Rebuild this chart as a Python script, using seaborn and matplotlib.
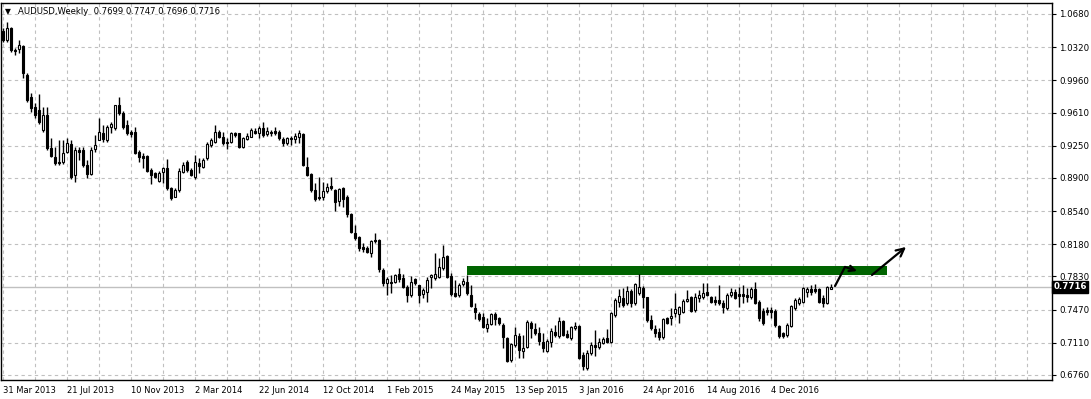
import numpy as np
import pandas as pd
import matplotlib
matplotlib.use("Agg")
import matplotlib.pyplot as plt
from matplotlib.patches import Rectangle
import matplotlib.transforms as mtransforms
import seaborn as sns

# ---------------- data (AUDUSD weekly) ----------------
opens = [1.0495,1.0398,1.0528,1.0289,1.0300,1.0332,1.0018,0.9779,0.9670,0.9638,
         0.9420,0.9583,0.9225,0.9127,0.9073,0.9073,0.9181,0.9268,0.8932,0.9203,
         0.9203,0.9040,0.8943,0.9214,0.9312,0.9388,0.9312,0.9453,0.9442,0.9692,
         0.9605,0.9475,0.9399,0.9399,0.9181,0.9138,0.9138,0.8986,0.8953,0.8867,
         0.8964,0.9008,0.8791,0.8693,0.8769,0.8964,0.9073,0.8986,0.8910,0.9062,
         0.9019,0.9116,0.9257,0.9290,0.9399,0.9344,0.9290,0.9290,0.9388,0.9388,
         0.9236,0.9323,0.9344,0.9409,0.9388,0.9442,0.9377,0.9399,0.9409,0.9399,
         0.9323,0.9279,0.9333,0.9323,0.9344,0.9377,0.9019,0.8943,0.8769,0.8693,
         0.8693,0.8758,0.8812,0.8769,0.8649,0.8791,0.8693,0.8508,0.8302,0.8258,
         0.8150,0.8139,0.8085,0.8226,0.8226,0.7900,0.7759,0.7770,0.7770,0.7857,
         0.7813,0.7715,0.7629,0.7802,0.7737,0.7640,0.7661,0.7824,0.7813,0.7824,
         0.7922,0.8052,0.7835,0.7650,0.7629,0.7748,0.7770,0.7629,0.7487,0.7422,
         0.7390,0.7270,0.7314,0.7422,0.7379,0.7303,0.7162,0.6923,0.7086,0.7183,
         0.7021,0.7064,0.7325,0.7259,0.7216,0.7118,0.7021,0.7118,0.7227,0.7183,
         0.7346,0.7205,0.7162,0.7270,0.7292,0.6977,0.6836,0.6999,0.7086,0.7064,
         0.7107,0.7162,0.7118,0.7411,0.7553,0.7596,0.7542,0.7672,0.7542,0.7650,
         0.7705,0.7607,0.7357,0.7259,0.7227,0.7172,0.7379,0.7379,0.7433,0.7422,
         0.7444,0.7563,0.7607,0.7466,0.7596,0.7607,0.7661,0.7607,0.7574,0.7574,
         0.7542,0.7487,0.7629,0.7661,0.7640,0.7640,0.7629,0.7607,0.7694,0.7553,
         0.7455,0.7466,0.7466,0.7455,0.7292,0.7216,0.7194,0.7292,0.7487,0.7542,
         0.7553,0.7661,0.7694,0.7694,0.7694,0.7596,0.7542,0.7699]
highs = [1.0528,1.0593,1.0539,1.0311,1.0398,1.0343,1.0039,0.9822,0.9714,0.9811,
         0.9670,0.9670,0.9333,0.9236,0.9312,0.9312,0.9333,0.9312,0.9236,0.9236,
         0.9236,0.9095,0.9236,0.9366,0.9551,0.9475,0.9475,0.9507,0.9692,0.9779,
         0.9627,0.9529,0.9420,0.9453,0.9203,0.9171,0.9149,0.9008,0.8964,0.8975,
         0.9019,0.9105,0.8801,0.8791,0.9008,0.9073,0.9095,0.9008,0.9149,0.9116,
         0.9116,0.9290,0.9333,0.9475,0.9420,0.9399,0.9333,0.9399,0.9399,0.9388,
         0.9344,0.9388,0.9442,0.9442,0.9464,0.9507,0.9453,0.9420,0.9453,0.9420,
         0.9344,0.9344,0.9355,0.9388,0.9420,0.9388,0.9127,0.8953,0.8845,0.8910,
         0.8856,0.8845,0.8910,0.8780,0.8791,0.8801,0.8714,0.8519,0.8389,0.8269,
         0.8193,0.8161,0.8226,0.8302,0.8237,0.7922,0.7824,0.7846,0.7857,0.7922,
         0.7857,0.7737,0.7835,0.7813,0.7737,0.7705,0.7824,0.7857,0.8085,0.8030,
         0.8172,0.8063,0.7868,0.7791,0.7759,0.7813,0.7846,0.7737,0.7542,0.7444,
         0.7433,0.7379,0.7433,0.7444,0.7390,0.7325,0.7172,0.7107,0.7281,0.7216,
         0.7194,0.7357,0.7346,0.7325,0.7281,0.7216,0.7151,0.7270,0.7303,0.7390,
         0.7357,0.7249,0.7292,0.7335,0.7303,0.7010,0.7031,0.7118,0.7249,0.7162,
         0.7172,0.7259,0.7444,0.7596,0.7694,0.7705,0.7726,0.7694,0.7759,0.7857,
         0.7726,0.7607,0.7411,0.7303,0.7270,0.7379,0.7390,0.7487,0.7650,0.7509,
         0.7585,0.7683,0.7618,0.7650,0.7683,0.7759,0.7759,0.7618,0.7618,0.7737,
         0.7574,0.7650,0.7705,0.7694,0.7715,0.7737,0.7705,0.7715,0.7770,0.7574,
         0.7487,0.7498,0.7498,0.7477,0.7303,0.7227,0.7325,0.7520,0.7596,0.7607,
         0.7715,0.7715,0.7737,0.7748,0.7705,0.7629,0.7726,0.7747]
lows = [1.0376,1.0376,1.0267,1.0235,1.0256,0.9985,0.9724,0.9616,0.9551,0.9485,
        0.9399,0.9203,0.9127,0.9040,0.9040,0.9051,0.9171,0.8888,0.8856,0.9095,
        0.9019,0.8899,0.8932,0.9181,0.9312,0.9290,0.9290,0.9388,0.9420,0.9583,
        0.9431,0.9366,0.9344,0.9160,0.9073,0.9008,0.8964,0.8834,0.8899,0.8856,
        0.8845,0.8769,0.8660,0.8693,0.8747,0.8953,0.8964,0.8921,0.8888,0.8953,
        0.9008,0.9095,0.9236,0.9279,0.9333,0.9257,0.9214,0.9279,0.9344,0.9225,
        0.9225,0.9312,0.9344,0.9377,0.9333,0.9344,0.9355,0.9355,0.9366,0.9312,
        0.9247,0.9257,0.9257,0.9279,0.9279,0.9029,0.8921,0.8747,0.8649,0.8660,
        0.8660,0.8736,0.8769,0.8541,0.8595,0.8584,0.8476,0.8302,0.8226,0.8106,
        0.8096,0.8085,0.8041,0.8193,0.7878,0.7726,0.7629,0.7650,0.7759,0.7770,
        0.7705,0.7553,0.7607,0.7737,0.7542,0.7596,0.7553,0.7705,0.7791,0.7813,
        0.7900,0.7813,0.7618,0.7607,0.7607,0.7726,0.7629,0.7498,0.7368,0.7346,
        0.7270,0.7227,0.7303,0.7303,0.7303,0.7053,0.6901,0.6901,0.7064,0.6944,
        0.6944,0.7053,0.7162,0.7194,0.7086,0.7010,0.7010,0.7064,0.7172,0.7162,
        0.7183,0.7162,0.7140,0.7249,0.6934,0.6814,0.6814,0.6977,0.6966,0.7042,
        0.7096,0.7107,0.7107,0.7390,0.7498,0.7498,0.7520,0.7498,0.7520,0.7629,
        0.7487,0.7335,0.7249,0.7172,0.7140,0.7151,0.7314,0.7303,0.7390,0.7325,
        0.7433,0.7553,0.7444,0.7444,0.7553,0.7585,0.7618,0.7542,0.7520,0.7520,
        0.7433,0.7466,0.7607,0.7585,0.7498,0.7542,0.7553,0.7585,0.7531,0.7346,
        0.7303,0.7411,0.7379,0.7281,0.7162,0.7162,0.7172,0.7281,0.7466,0.7520,
        0.7542,0.7607,0.7629,0.7650,0.7542,0.7498,0.7531,0.7696]
closes = [1.0398,1.0528,1.0289,1.0278,1.0343,1.0039,0.9746,0.9659,0.9583,0.9507,
          0.9583,0.9225,0.9138,0.9062,0.9062,0.9171,0.9279,0.8910,0.9203,0.9181,
          0.9040,0.8943,0.9203,0.9257,0.9399,0.9323,0.9453,0.9485,0.9692,0.9605,
          0.9453,0.9388,0.9377,0.9171,0.9127,0.9116,0.8975,0.8932,0.8910,0.8953,
          0.9008,0.8791,0.8682,0.8769,0.8975,0.9040,0.8986,0.8932,0.9073,0.9029,
          0.9095,0.9268,0.9312,0.9399,0.9344,0.9279,0.9279,0.9388,0.9366,0.9236,
          0.9333,0.9355,0.9420,0.9388,0.9442,0.9366,0.9409,0.9388,0.9388,0.9333,
          0.9279,0.9333,0.9323,0.9355,0.9388,0.9040,0.8932,0.8769,0.8671,0.8682,
          0.8758,0.8801,0.8791,0.8638,0.8780,0.8671,0.8508,0.8313,0.8248,0.8139,
          0.8128,0.8096,0.8215,0.8215,0.7911,0.7759,0.7802,0.7759,0.7846,0.7802,
          0.7715,0.7629,0.7770,0.7759,0.7629,0.7683,0.7791,0.7846,0.7857,0.7933,
          0.8041,0.7824,0.7640,0.7618,0.7737,0.7781,0.7650,0.7509,0.7444,0.7368,
          0.7281,0.7314,0.7422,0.7368,0.7325,0.7172,0.6912,0.7096,0.7194,0.7031,
          0.7053,0.7335,0.7270,0.7216,0.7129,0.7053,0.7129,0.7238,0.7194,0.7346,
          0.7194,0.7172,0.7281,0.7292,0.6944,0.6858,0.6999,0.7086,0.7064,0.7118,
          0.7151,0.7118,0.7433,0.7574,0.7618,0.7520,0.7672,0.7542,0.7748,0.7715,
          0.7607,0.7357,0.7270,0.7216,0.7172,0.7368,0.7325,0.7401,0.7477,0.7498,
          0.7563,0.7585,0.7455,0.7607,0.7629,0.7650,0.7629,0.7553,0.7553,0.7542,
          0.7498,0.7629,0.7661,0.7596,0.7618,0.7618,0.7607,0.7694,0.7542,0.7379,
          0.7325,0.7444,0.7444,0.7303,0.7183,0.7183,0.7303,0.7509,0.7574,0.7585,
          0.7705,0.7694,0.7661,0.7672,0.7553,0.7542,0.7715,0.7716]

date_labels = ["31 Mar 2013", "21 Jul 2013", "10 Nov 2013", "2 Mar 2014", "22 Jun 2014",
               "12 Oct 2014", "1 Feb 2015", "24 May 2015", "13 Sep 2015", "3 Jan 2016",
               "24 Apr 2016", "14 Aug 2016", "4 Dec 2016"]
date_label_bars = [0, 16, 32, 48, 64, 80, 96, 112, 128, 144, 160, 176, 192]
price_ticks = [1.0680, 1.0320, 0.9960, 0.9610, 0.9250, 0.8900, 0.8540,
               0.8180, 0.7830, 0.7470, 0.7110, 0.6760]
last_price = 0.7716
header = "AUDUSD,Weekly  0.7699 0.7747 0.7696 0.7716"

# resistance zone drawn on the chart
zone_bars = [116, 221]
zone_prices = [0.7846, 0.7944]
# hand-drawn arrows (bar index, price)
arrow1_x = [208.0, 210.5, 213.5]
arrow1_y = [0.7726, 0.7933, 0.7889]
arrow2_x = [217.25, 225.75]
arrow2_y = [0.7846, 0.8150]

df = pd.DataFrame({"open": opens, "high": highs, "low": lows, "close": closes})
df["bar"] = np.arange(len(df))

# ---------------- figure ----------------
sns.set_style("white")
plt.rcParams["font.family"] = ["DejaVu Sans"]

W, H = 1091, 399
fig = plt.figure(figsize=(W / 100, H / 100), dpi=100)
fig.patch.set_facecolor("white")
ax = fig.add_axes([1 / W, 19 / H, 1051 / W, 377 / H])
ax.set_facecolor("white")

ax.set_xlim(-0.5, 262.25)
ax.set_ylim(0.67056, 1.0799)

grid_c = "#c0c0c0"
for p in price_ticks:
    ax.axhline(p, color=grid_c, lw=0.8, ls=(0, (3, 3)), zorder=0)
for b in range(0, 262, 8):
    ax.axvline(b, color=grid_c, lw=0.8, ls=(0, (3, 3)), zorder=0)
ax.axhline(last_price, color="#c0c0c0", lw=1.0, zorder=0.5)

# resistance zone
ax.add_patch(Rectangle((zone_bars[0], zone_prices[0]), zone_bars[1] - zone_bars[0],
                       zone_prices[1] - zone_prices[0], color="#006400", lw=0, zorder=1))

# wicks
ax.vlines(df["bar"], df["low"], df["high"], color="black", lw=1.0, zorder=2)
# bodies
up = df["close"] >= df["open"]
body_lo = np.minimum(df["open"], df["close"])
body_h = np.maximum(np.abs(df["close"] - df["open"]), 0.0003)
ax.bar(df["bar"][up], body_h[up], bottom=body_lo[up], width=0.62,
       color="white", edgecolor="black", linewidth=0.8, zorder=3)
ax.bar(df["bar"][~up], body_h[~up], bottom=body_lo[~up], width=0.62,
       color="black", edgecolor="black", linewidth=0.8, zorder=3)

# arrows
sns.lineplot(x=arrow1_x[:2], y=arrow1_y[:2], ax=ax, color="black", lw=1.6,
             estimator=None, sort=False, zorder=4)
ax.annotate("", xy=(arrow1_x[2], arrow1_y[2]), xytext=(arrow1_x[1], arrow1_y[1]),
            arrowprops=dict(arrowstyle="->", color="black", lw=1.6, mutation_scale=10,
                            shrinkA=0, shrinkB=0), zorder=4)
ax.annotate("", xy=(arrow2_x[1], arrow2_y[1]), xytext=(arrow2_x[0], arrow2_y[0]),
            arrowprops=dict(arrowstyle="->", color="black", lw=1.6, mutation_scale=14,
                            shrinkA=0, shrinkB=0), zorder=4)

# axes styling
for s in ax.spines.values():
    s.set_color("black")
    s.set_linewidth(1.0)
ax.yaxis.tick_right()
ax.set_yticks(price_ticks)
ax.set_yticklabels([f"{p:.4f}" for p in price_ticks], fontsize=6.2, color="black")
ax.tick_params(axis="y", direction="out", length=3, width=0.8, pad=2, colors="black")
ax.set_xticks(date_label_bars)
ax.set_xticklabels(date_labels, fontsize=6.0, color="black", ha="left")
ax.tick_params(axis="x", direction="out", length=3, width=0.8, pad=1, colors="black")

# last price box on the right axis
tr = mtransforms.blended_transform_factory(ax.transAxes, ax.transData)
ax.text(1.0015, last_price, f"{last_price:.4f}", transform=tr, fontsize=6.2,
        color="white", va="center", ha="left", fontweight="bold",
        bbox=dict(boxstyle="square,pad=0.15", fc="black", ec="black"), zorder=6,
        clip_on=False)

# header
ax.text(0.004, 0.977, "\u25bc", transform=ax.transAxes, fontsize=5.5, va="center",
        ha="left", color="black")
ax.text(0.016, 0.977, header, transform=ax.transAxes, fontsize=6.1, va="center",
        ha="left", color="black")

ax.set_xlabel("")
ax.set_ylabel("")
fig.savefig("out.png", dpi=100, facecolor="white")
